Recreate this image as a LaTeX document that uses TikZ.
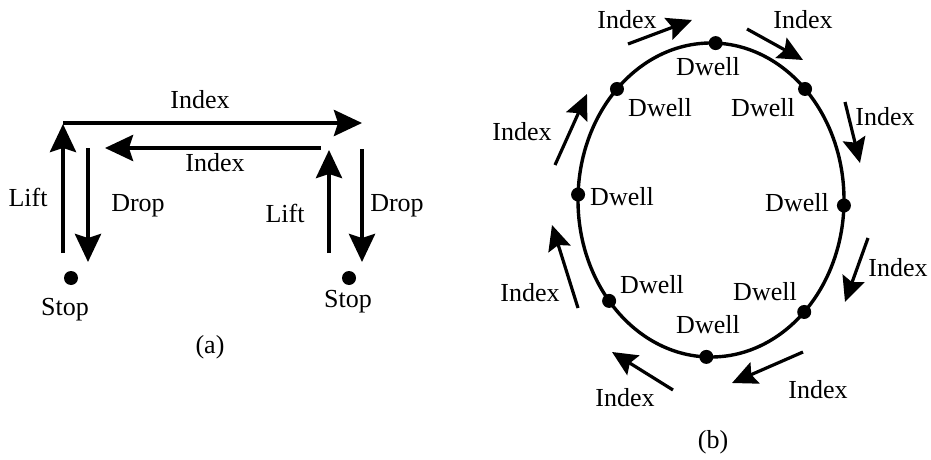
\documentclass[tikz,border=0pt]{standalone}
\usepackage{fontspec}
\setmainfont{Liberation Serif}
\usetikzlibrary{arrows.meta,positioning}
\tikzset{
  lbl/.style     = {inner sep=0pt, font=\fontsize{13}{15}\selectfont},
  dot/.style     = {circle, fill=black, inner sep=0pt, minimum size=7pt},
  arr/.style     = {-{Stealth[length=14pt, width=13pt, inset=2pt]}, line width=2pt},
  thinarr/.style = {-{Stealth[length=12.5pt, width=11.5pt, inset=2pt]}, line width=1.6pt},
  track/.style   = {line width=1.7pt}
}

\begin{document}
\begin{tikzpicture}[x=0.5pt, y=-0.5pt]
  \useasboundingbox (0,0) rectangle (931,460);

  % (a) lift / index / drop
  \coordinate (liftLa) at (63,253);
  \coordinate (liftLb) at (63,124);
  \coordinate (idxTa)  at (63,123);
  \coordinate (idxTb)  at (362,123);
  \coordinate (dropLa) at (88,148);
  \coordinate (dropLb) at (88,262);
  \coordinate (idxBa)  at (321,148);
  \coordinate (idxBb)  at (105,148);
  \coordinate (liftRa) at (329,253);
  \coordinate (liftRb) at (329,150);
  \coordinate (dropRa) at (362,149);
  \coordinate (dropRb) at (362,262);
  \node[dot] (stopL) at (71,278) {};
  \node[dot] (stopR) at (349,278) {};

  \draw[arr] (liftLa) -- (liftLb);
  \draw[arr] (idxTa)  -- (idxTb);
  \draw[arr] (dropLa) -- (dropLb);
  \draw[arr] (idxBa)  -- (idxBb);
  \draw[arr] (liftRa) -- (liftRb);
  \draw[arr] (dropRa) -- (dropRb);

  \node[lbl] at (200,100) {Index};
  \node[lbl] at (215,163) {Index};
  \node[lbl] at (28,197)  {Lift};
  \node[lbl] at (285,213) {Lift};
  \node[lbl] at (138,206) {Drop};
  \node[lbl] at (397,206) {Drop};
  \node[lbl] at (65,310)  {Stop};
  \node[lbl] at (348,302) {Stop};
  \node[lbl] at (210,347) {(a)};

  % (b) indexing ring
  \draw[track] (711,200) ellipse [x radius=133, y radius=157];
  \node[dot] (dT)  at ({711+133*cos(88)},{200-157*sin(88)}) {};
  \node[dot] (dTL) at ({711+133*cos(135)},{200-157*sin(135)}) {};
  \node[dot] (dTR) at ({711+133*cos(45)},{200-157*sin(45)}) {};
  \node[dot] (dL)  at ({711+133*cos(178)},{200-157*sin(178)}) {};
  \node[dot] (dR)  at ({711+133*cos(358)},{200-157*sin(358)}) {};
  \node[dot] (dBL) at ({711+133*cos(220)},{200-157*sin(220)}) {};
  \node[dot] (dBR) at ({711+133*cos(314.5)},{200-157*sin(314.5)}) {};
  \node[dot] (dB)  at ({711+133*cos(268)},{200-157*sin(268)}) {};

  \node[lbl] at (708,67)  {Dwell};
  \node[lbl] at (660,108) {Dwell};
  \node[lbl] at (763,108) {Dwell};
  \node[lbl] at (622,197) {Dwell};
  \node[lbl] at (797,203) {Dwell};
  \node[lbl] at (652,285) {Dwell};
  \node[lbl] at (765,292) {Dwell};
  \node[lbl] at (708,325) {Dwell};

  \coordinate (i1a) at (628,44);  \coordinate (i1b) at (692,20);
  \coordinate (i2a) at (747,29);  \coordinate (i2b) at (803,60);
  \coordinate (i3a) at (845,102); \coordinate (i3b) at (860,163);
  \coordinate (i4a) at (868,238); \coordinate (i4b) at (845,302);
  \coordinate (i5a) at (803,352); \coordinate (i5b) at (732,383);
  \coordinate (i6a) at (673,390); \coordinate (i6b) at (612,352);
  \coordinate (i7a) at (578,308); \coordinate (i7b) at (552,225);
  \coordinate (i8a) at (555,165); \coordinate (i8b) at (587,94);
  \draw[thinarr] (i1a) -- (i1b);
  \draw[thinarr] (i2a) -- (i2b);
  \draw[thinarr] (i3a) -- (i3b);
  \draw[thinarr] (i4a) -- (i4b);
  \draw[thinarr] (i5a) -- (i5b);
  \draw[thinarr] (i6a) -- (i6b);
  \draw[thinarr] (i7a) -- (i7b);
  \draw[thinarr] (i8a) -- (i8b);

  \node[lbl] at (627,20)  {Index};
  \node[lbl] at (803,20)  {Index};
  \node[lbl] at (885,117) {Index};
  \node[lbl] at (898,268) {Index};
  \node[lbl] at (818,390) {Index};
  \node[lbl] at (625,398) {Index};
  \node[lbl] at (530,293) {Index};
  \node[lbl] at (522,132) {Index};
  \node[lbl] at (713,442) {(b)};
\end{tikzpicture}
\end{document}
